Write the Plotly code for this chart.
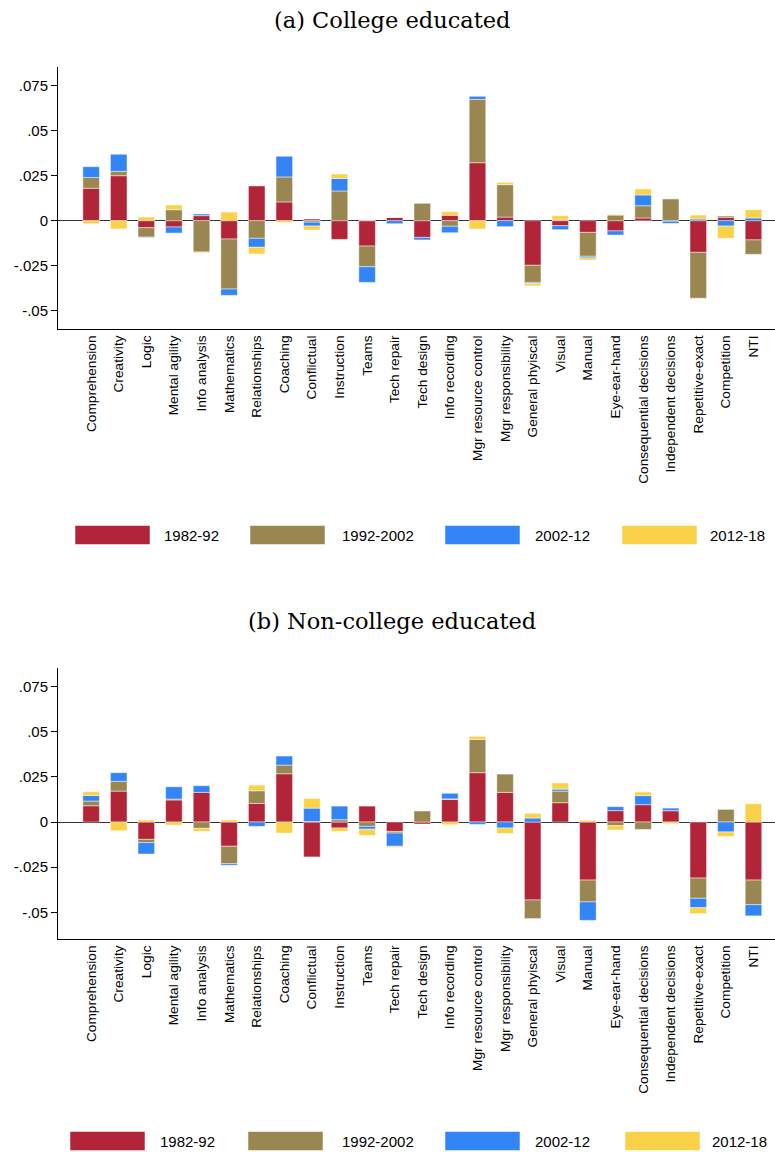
import plotly.graph_objects as go

categories = ["Comprehension", "Creativity", "Logic", "Mental agility", "Info analysis",
              "Mathematics", "Relationships", "Coaching", "Conflictual", "Instruction",
              "Teams", "Tech repair", "Tech design", "Info recording", "Mgr resource control",
              "Mgr responsibility", "General phyiscal", "Visual", "Manual", "Eye-ear-hand",
              "Consequential decisions", "Independent decisions", "Repetitive-exact",
              "Competition", "NTI"]

series_names = ["1982-92", "1992-2002", "2002-12", "2012-18"]
colors = ["#B22438", "#9A8650", "#3385F5", "#FAD24A"]

# Panel (a) College educated
a_1982_92 = [0.018, 0.025, -0.0039, -0.0035, 0.0028, -0.0102, 0.0193, 0.0104, 0.0009, -0.0104,
             -0.0141, 0.0019, -0.0093, 0.003, 0.0322, 0.002, -0.0248, -0.0028, -0.0065, -0.0057,
             0.0015, -0.0003, -0.0176, 0.0019, -0.0107]
a_1992_2002 = [0.006, 0.0024, -0.0052, 0.0061, -0.0174, -0.0278, -0.0098, 0.0139, -0.0008, 0.0165,
               -0.0115, 0.0, 0.0098, -0.0031, 0.0352, 0.018, -0.0095, 0.0004, -0.0133, 0.0031,
               0.0068, 0.0122, -0.0255, 0.0007, -0.008]
a_2002_12 = [0.006, 0.0095, -0.0003, -0.0034, 0.0009, -0.0035, -0.005, 0.0115, -0.0022, 0.007,
             -0.0087, -0.0017, -0.0014, -0.0036, 0.0017, -0.0033, -0.0006, -0.0022, -0.0009, -0.0023,
             0.006, -0.0012, 0.0009, -0.003, 0.0015]
a_2012_18 = [-0.0017, -0.0046, 0.002, 0.0026, -0.0004, 0.0048, -0.0037, -0.001, -0.0022, 0.0024,
             0.0, 0.0, 0.0, 0.002, -0.0046, 0.0013, -0.0013, 0.0024, -0.0012, 0.0004,
             0.0033, 0.0, 0.0022, -0.0068, 0.0046]

# Panel (b) Non-college educated
b_1982_92 = [0.009, 0.0171, -0.0096, 0.0122, 0.0164, -0.0134, 0.0103, 0.0267, -0.0193, -0.0033,
             0.0088, -0.0052, -0.0011, 0.0125, 0.0273, 0.0164, -0.0431, 0.0107, -0.0321, 0.0063,
             0.0096, 0.0063, -0.031, 0.0, -0.0321]
b_1992_2002 = [0.0026, 0.0054, -0.0018, 0.0005, -0.0035, -0.0096, 0.007, 0.0048, 0.0003, 0.0013,
               -0.0024, -0.0009, 0.0063, 0.0003, 0.0184, 0.0101, -0.0103, 0.0064, -0.0121, -0.002,
               -0.0041, 0.0, -0.0112, 0.007, -0.0136]
b_2002_12 = [0.0031, 0.0048, -0.0063, 0.0068, 0.0037, -0.0009, -0.0024, 0.005, 0.0074, 0.0075,
             -0.0016, -0.0073, 0.0, 0.0031, -0.0013, -0.0033, 0.0022, 0.0011, -0.0102, 0.0022,
             0.005, 0.0014, -0.0052, -0.0055, -0.0062]
b_2012_18 = [0.0021, -0.0048, 0.0011, -0.0017, -0.0017, 0.0011, 0.0031, -0.0061, 0.0053, -0.0019,
             -0.0034, -0.0006, 0.0, -0.0015, 0.0017, -0.003, 0.0026, 0.0034, 0.0009, -0.0024,
             0.002, -0.0009, -0.0033, -0.0025, 0.0101]

panel_a = [a_1982_92, a_1992_2002, a_2002_12, a_2012_18]
panel_b = [b_1982_92, b_1992_2002, b_2002_12, b_2012_18]

ytick_vals = [-0.05, -0.025, 0, 0.025, 0.05, 0.075]
ytick_text = ["-.05", "-.025", "0", ".025", ".05", ".075"]

W, H = 775, 1152

fig = go.Figure()
for vals_list, xa, ya in [(panel_a, "x", "y"), (panel_b, "x2", "y2")]:
    for name, col, vals in zip(series_names, colors, vals_list):
        fig.add_trace(go.Bar(
            x=categories, y=vals, name=name, xaxis=xa, yaxis=ya,
            marker=dict(color=col, line=dict(color="rgba(255,255,255,0.45)", width=1)),
            showlegend=False))

def px_x(p):
    return p / W

def px_y(p):
    return 1 - p / H

sans = "Liberation Sans, Arial, sans-serif"
serif = "DejaVu Serif, serif"

xcommon = dict(
    range=[-1.2, 24.78], showline=True, linecolor="black", linewidth=1,
    ticks="", tickangle=-90, tickfont=dict(family=sans, size=13.7, color="black"),
    showgrid=False, zeroline=False, categoryorder="array", categoryarray=categories,
)
ycommon = dict(
    tickvals=ytick_vals, ticktext=ytick_text, ticks="outside", ticklen=6,
    tickcolor="black", tickwidth=1, showline=True, linecolor="black", linewidth=1,
    tickfont=dict(family=sans, size=15, color="black"), showgrid=False,
    zeroline=True, zerolinecolor="#333333", zerolinewidth=1.2,
)

fig.update_layout(
    width=W, height=H, margin=dict(l=0, r=0, t=0, b=0),
    paper_bgcolor="white", plot_bgcolor="white",
    barmode="relative", bargap=0.4,
    xaxis=dict(domain=[px_x(58), 1.0], anchor="y", **xcommon),
    yaxis=dict(domain=[px_y(329), px_y(67)], anchor="x", range=[-0.0602, 0.0854], **ycommon),
    xaxis2=dict(domain=[px_x(58), 1.0], anchor="y2", **xcommon),
    yaxis2=dict(domain=[px_y(939), px_y(668)], anchor="x2", range=[-0.0647, 0.0852], **ycommon),
)

annotations = [
    dict(text="(a) College educated", x=px_x(392), y=px_y(20), xref="paper", yref="paper",
         showarrow=False, font=dict(family=serif, size=22.5, color="black"),
         xanchor="center", yanchor="middle"),
    dict(text="(b) Non-college educated", x=px_x(392), y=px_y(621), xref="paper", yref="paper",
         showarrow=False, font=dict(family=serif, size=22.5, color="black"),
         xanchor="center", yanchor="middle"),
]
shapes = []
legend_rows = [
    (535, [(75, 162), (250, 340), (445, 533), (622, 708)]),
    (1141, [(70, 158), (248, 340), (445, 533), (625, 710)]),
]
for yc, items in legend_rows:
    for (bx, lx), name, col in zip(items, series_names, colors):
        shapes.append(dict(type="rect", xref="paper", yref="paper",
                           x0=px_x(bx), x1=px_x(bx + 75), y0=px_y(yc + 9.5), y1=px_y(yc - 9.5),
                           fillcolor=col, line=dict(color="rgba(255,255,255,0.5)", width=1)))
        annotations.append(dict(text=name, x=px_x(lx), y=px_y(yc), xref="paper", yref="paper",
                                showarrow=False, xanchor="left", yanchor="middle",
                                font=dict(family=sans, size=15, color="black")))

fig.update_layout(annotations=annotations, shapes=shapes)

fig.write_html("out.html", config={"displayModeBar": False},
               post_script="document.body.style.margin='0';")
